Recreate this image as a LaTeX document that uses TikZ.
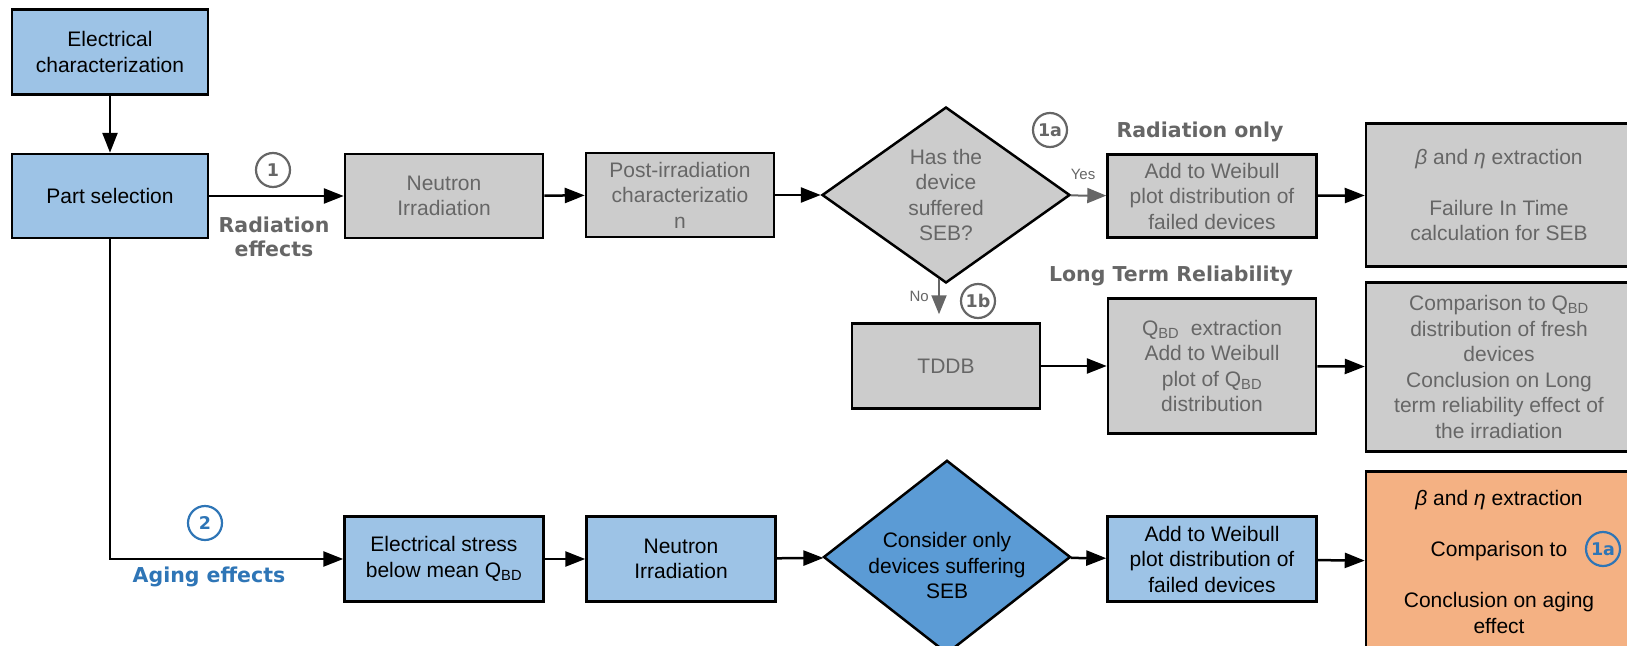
\documentclass[tikz,border=0pt]{standalone}
\usepackage{fontspec}
\setmainfont{Liberation Sans}
\newfontfamily\labelfont{DejaVu Sans}
\usetikzlibrary{arrows.meta,shapes.geometric,positioning}

\definecolor{hellblau}{HTML}{9DC3E6}
\definecolor{dunkelblau}{HTML}{5B9BD5}
\definecolor{hellgrau}{HTML}{CCCCCC}
\definecolor{textgrau}{HTML}{666666}
\definecolor{lachs}{HTML}{F4B183}
\definecolor{blautext}{HTML}{2E75B6}

\begin{document}
\begin{tikzpicture}[x=1pt,y=-1pt,
		font=\fontsize{21}{25.5}\selectfont,
		kasten/.style={draw=black,line width=2.5pt,inner sep=0pt,align=center},
		blau/.style={kasten,fill=hellblau},
		grau/.style={kasten,fill=hellgrau,text=textgrau},
		raute/.style={diamond,draw=black,line width=2.5pt,inner sep=-12pt,align=center},
		pfeil/.style={line width=2.5pt,-{Triangle[length=20pt,width=15pt]}},
		jn/.style={line width=2pt,draw=textgrau,-{Triangle[length=19pt,width=15pt]}},
		marke/.style={circle,draw=textgrau,line width=2.2pt,text=textgrau,minimum size=34pt,inner sep=0pt,font=\labelfont\bfseries\fontsize{17.5}{17.5}\selectfont},
		markeb/.style={marke,draw=blautext,text=blautext},
		titel/.style={font=\labelfont\bfseries\fontsize{20.5}{24.5}\selectfont,text=textgrau,align=center},
		klein/.style={font=\fontsize{15}{15}\selectfont,text=textgrau}]
		\useasboundingbox (0,0) rectangle (1627,645);
		
		% Start
		\node[blau,minimum width=196pt,minimum height=85pt] (elek) at (110,52) {Electrical\\characterization};
		\node[blau,minimum width=196pt,minimum height=84pt] (teil) at (110,196) {Part selection};
		
		% Pfad 1: Bestrahlung
		\node[grau,minimum width=198pt,minimum height=84pt] (neutron1) at (444,196) {Neutron\\Irradiation};
		\node[grau,minimum width=188pt,minimum height=84pt] (post) at (680,195) {Post-irradiation\\characterizatio\\n};
		\node[raute,fill=hellgrau,text=textgrau,minimum width=248pt,minimum height=176pt] (seb) at (946,195) {Has the\\device\\suffered\\SEB?};
		\node[grau,minimum width=209pt,minimum height=83pt] (weibull1) at (1212,196) {Add to Weibull\\plot distribution of\\failed devices};
		\node[grau,minimum width=266pt,minimum height=143pt] (fit) at (1499,195) {{\itshape β} and {\itshape η} extraction\\[25.5pt]Failure In Time\\calculation for SEB};
		\node[grau,minimum width=188pt,minimum height=85pt] (tddb) at (946,366) {TDDB};
		\node[grau,minimum width=208pt,minimum height=135pt] (qbd) at (1212,366) {Q\textsubscript{BD}~ extraction\\Add to Weibull\\plot of Q\textsubscript{BD}\\distribution};
		\node[grau,minimum width=266pt,minimum height=169pt] (vergleich) at (1499,367) {Comparison to Q\textsubscript{BD}\\distribution of fresh\\devices\\Conclusion on Long\\term reliability effect of\\the irradiation};
		
		% Pfad 2: Alterung
		\node[blau,minimum width=199pt,minimum height=85pt] (stress) at (444,559) {Electrical stress\\below mean Q\textsubscript{BD}};
		\node[blau,minimum width=189pt,minimum height=85pt] (neutron2) at (681,559) {Neutron\\Irradiation};
		\node[raute,fill=dunkelblau,minimum width=247pt,minimum height=174pt] (nurseb) at (947,557) {\rule{0pt}{33pt}Consider only\\devices suffering\\SEB};
		\node[blau,minimum width=209pt,minimum height=85pt] (weibull2) at (1212,559) {Add to Weibull\\plot distribution of\\failed devices};
		\node[kasten,fill=lachs,minimum width=266pt,minimum height=181pt] (alterung) at (1499,562) {{\itshape β} and {\itshape η} extraction\\[25.5pt]Comparison to\\[25.5pt]Conclusion on aging\\effect};
		
		% Pfeile
		\draw[pfeil] (elek) -- (teil);
		\draw[pfeil] (teil) -- (neutron1);
		\draw[pfeil] (neutron1) -- (post);
		\draw[pfeil] (post) -- (seb);
		\draw[jn] (seb) -- (weibull1) node[klein,pos=0.35,above=12pt] {Yes};
		\draw[pfeil] (weibull1) -- (fit);
		\draw[jn] ([xshift=-7pt,yshift=5pt]seb.south) -- ([xshift=-7pt,yshift=8pt]tddb.north) node[klein,midway,left=6pt] {No};
		\draw[pfeil] (tddb) -- (qbd);
		\draw[pfeil] (qbd) -- (vergleich);
		\draw[pfeil] (teil) |- (stress);
		\draw[pfeil] (stress) -- (neutron2);
		\draw[pfeil] (neutron2) -- (nurseb);
		\draw[pfeil] (nurseb) -- (weibull2);
		\draw[pfeil] (weibull2) -- (alterung);
		
		% Beschriftung
		\node[marke] (m1) at (273,170) {1};
		\node[titel] (strahlung) at (274,237) {Radiation\\effects};
		\node[marke] (m1a) at (1050,130) {1a};
		\node[titel] (nurstrahlung) at (1200,132) {Radiation only};
		\node[marke] (m1b) at (978,301) {1b};
		\node[titel] (langzeit) at (1171,276) {Long Term Reliability};
		\node[markeb] (m2) at (205,523) {2};
		\node[titel,text=blautext] (alter) at (209,577) {Aging effects};
		\node[markeb] (verweis) at (1603,549) {1a};
	\end{tikzpicture}
\end{document}
